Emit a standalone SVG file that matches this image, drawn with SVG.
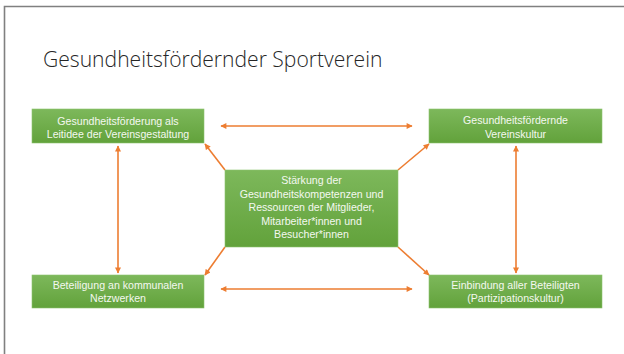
<svg xmlns="http://www.w3.org/2000/svg" width="624" height="354" viewBox="0 0 624 354">
<defs>
<linearGradient id="g" x1="0" y1="0" x2="0" y2="1">
<stop offset="0" stop-color="#7DB85B"/>
<stop offset="1" stop-color="#62A23B"/>
</linearGradient>
<marker id="ah" viewBox="0 0 10 10" refX="9" refY="5" markerWidth="7" markerHeight="6" markerUnits="userSpaceOnUse" orient="auto-start-reverse">
<path d="M0,0 L10,5 L0,10 z" fill="#ED7D31"/>
</marker>
<style>
.box{fill:url(#g);stroke:#8CC46E;stroke-width:0.6}
.t{font-family:"Liberation Sans",Arial,sans-serif;font-size:10.6px;fill:#F4F8F0;text-anchor:middle}
.c{stroke:#ED7D31;stroke-width:1.6;fill:none}
.title{font-family:"Open Sans","Liberation Sans",Arial,sans-serif;font-weight:300;font-size:21.1px;fill:#262626}
</style>
</defs>
<rect x="0" y="0" width="624" height="354" fill="#FFFFFF"/>
<path d="M4.5,354 L4.5,6.5 L624,6.5" fill="none" stroke="#808080" stroke-width="1.6"/>
<text class="title" x="43" y="67">Gesundheitsfördernder Sportverein</text>
<g id="connectors">
<line class="c" x1="221" y1="126" x2="412" y2="126" marker-start="url(#ah)" marker-end="url(#ah)"/>
<line class="c" x1="221" y1="289" x2="412" y2="289" marker-start="url(#ah)" marker-end="url(#ah)"/>
<line class="c" x1="118" y1="146" x2="118" y2="273" marker-start="url(#ah)" marker-end="url(#ah)"/>
<line class="c" x1="516" y1="146" x2="516" y2="273" marker-start="url(#ah)" marker-end="url(#ah)"/>
<line class="c" x1="225" y1="170" x2="205" y2="144" marker-end="url(#ah)"/>
<line class="c" x1="398" y1="170" x2="429" y2="144" marker-end="url(#ah)"/>
<line class="c" x1="225" y1="247" x2="205" y2="275" marker-end="url(#ah)"/>
<line class="c" x1="398" y1="247" x2="429" y2="275" marker-end="url(#ah)"/>
</g>
<g id="n-leitidee">
<rect class="box" x="32" y="109" width="172" height="34"/>
<text class="t" x="118" y="124.5">Gesundheitsförderung als</text>
<text class="t" x="118" y="138">Leitidee der Vereinsgestaltung</text>
</g>
<g id="n-vereinskultur">
<rect class="box" x="429" y="109" width="173" height="34"/>
<text class="t" x="515.5" y="124">Gesundheitsfördernde</text>
<text class="t" x="515.5" y="137.5">Vereinskultur</text>
</g>
<g id="n-center">
<rect class="box" x="225" y="170" width="173" height="77"/>
<text class="t" x="311.5" y="184">Stärkung der</text>
<text class="t" x="311.5" y="197.5">Gesundheitskompetenzen und</text>
<text class="t" x="311.5" y="211">Ressourcen der Mitglieder,</text>
<text class="t" x="311.5" y="224.5">Mitarbeiter*innen und</text>
<text class="t" x="311.5" y="238">Besucher*innen</text>
</g>
<g id="n-netzwerke">
<rect class="box" x="32" y="275" width="172" height="33"/>
<text class="t" x="118" y="288.5">Beteiligung an kommunalen</text>
<text class="t" x="118" y="302">Netzwerken</text>
</g>
<g id="n-einbindung">
<rect class="box" x="429" y="275" width="173" height="33"/>
<text class="t" x="515.5" y="288.5">Einbindung aller Beteiligten</text>
<text class="t" x="515.5" y="302">(Partizipationskultur)</text>
</g>
</svg>
